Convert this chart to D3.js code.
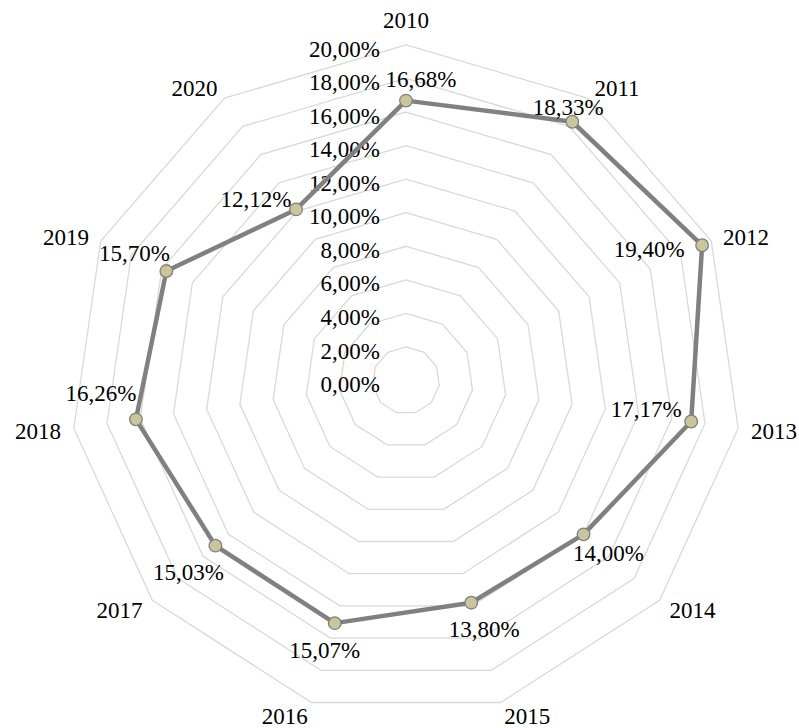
<!DOCTYPE html>
<html>
<head>
<meta charset="utf-8">
<script src="https://cdn.jsdelivr.net/npm/d3@7"></script>
<style>
  body { margin: 0; background: #fff; }
</style>
</head>
<body>
<div id="container"></div>
<script>
// data
let years = ["2010", "2011", "2012", "2013", "2014", "2015", "2016", "2017", "2018", "2019", "2020"];
let rates = [16.68, 18.33, 19.40, 17.17, 14.00, 13.80, 15.07, 15.03, 16.26, 15.70, 12.12];
let ticks = [0, 2, 4, 6, 8, 10, 12, 14, 16, 18, 20];

// layout only: where each value label sits relative to its point (label centre)
let labelShift = [[15, -21], [-4, -14], [-53, 4], [-45, -12], [25, 19], [13, 27],
                  [-10, 27], [-27, 27], [-35, -26], [-32, -18], [-40, -10]];

let width = 799;
let height = 728;
let cx = 406;
let cy = 380.5;
let fontSize = 23;
let font = "'Liberation Serif'";
let half = 7.6; // half the digit height, to centre text on a point

let svg = d3.select("#container")
  .append("svg")
  .attr("width", width)
  .attr("height", height);

let r = d3.scaleLinear().domain([0, 20]).range([0, 335.6]);
let n = years.length;
let angle = i => i * 2 * Math.PI / n;
let px = (i, v) => cx + r(v) * Math.sin(angle(i));
let py = (i, v) => cy - r(v) * Math.cos(angle(i));

let ring = d3.line().curve(d3.curveLinearClosed);

// grid rings
svg.append("g").selectAll("path")
  .data(ticks.filter(t => t > 0))
  .enter().append("path")
  .attr("d", t => ring(years.map((y, i) => [px(i, t), py(i, t)])))
  .attr("fill", "none")
  .attr("stroke", "#d9d9d9")
  .attr("stroke-width", 1.3);

// tick labels
svg.append("g").selectAll("text")
  .data(ticks)
  .enter().append("text")
  .attr("x", 380)
  .attr("y", t => cy - r(t) + 4 + half)
  .attr("text-anchor", "end")
  .style("font-family", font)
  .style("font-size", fontSize + "px")
  .text(t => t.toFixed(2).replace(".", ",") + "%");

// category labels
svg.append("g").selectAll("text")
  .data(years)
  .enter().append("text")
  .attr("x", (d, i) => px(i, 20) + 13 * Math.sin(angle(i)))
  .attr("y", (d, i) => {
    let y = py(i, 20) - 13 * Math.cos(angle(i)) + 1.5;
    if (Math.abs(Math.sin(angle(i))) < 0.01) y -= 13;
    return y + half;
  })
  .attr("text-anchor", (d, i) => {
    let s = Math.sin(angle(i));
    if (Math.abs(s) < 0.01) return "middle";
    return s > 0 ? "start" : "end";
  })
  .style("font-family", font)
  .style("font-size", fontSize + "px")
  .text(d => d);

// series line
svg.append("path")
  .attr("d", ring(rates.map((v, i) => [px(i, v), py(i, v)])))
  .attr("fill", "none")
  .attr("stroke", "#808080")
  .attr("stroke-width", 4.5)
  .attr("stroke-linejoin", "round");

// markers
svg.append("g").selectAll("circle")
  .data(rates)
  .enter().append("circle")
  .attr("cx", (v, i) => px(i, v))
  .attr("cy", (v, i) => py(i, v))
  .attr("r", 6.3)
  .attr("fill", "#cbc49d")
  .attr("stroke", "#7f7f7f")
  .attr("stroke-width", 1.3);

// value labels
svg.append("g").selectAll("text")
  .data(rates)
  .enter().append("text")
  .attr("x", (v, i) => px(i, v) + labelShift[i][0])
  .attr("y", (v, i) => py(i, v) + labelShift[i][1] + half)
  .attr("text-anchor", "middle")
  .style("font-family", font)
  .style("font-size", fontSize + "px")
  .text(v => v.toFixed(2).replace(".", ",") + "%");
</script>
</body>
</html>
